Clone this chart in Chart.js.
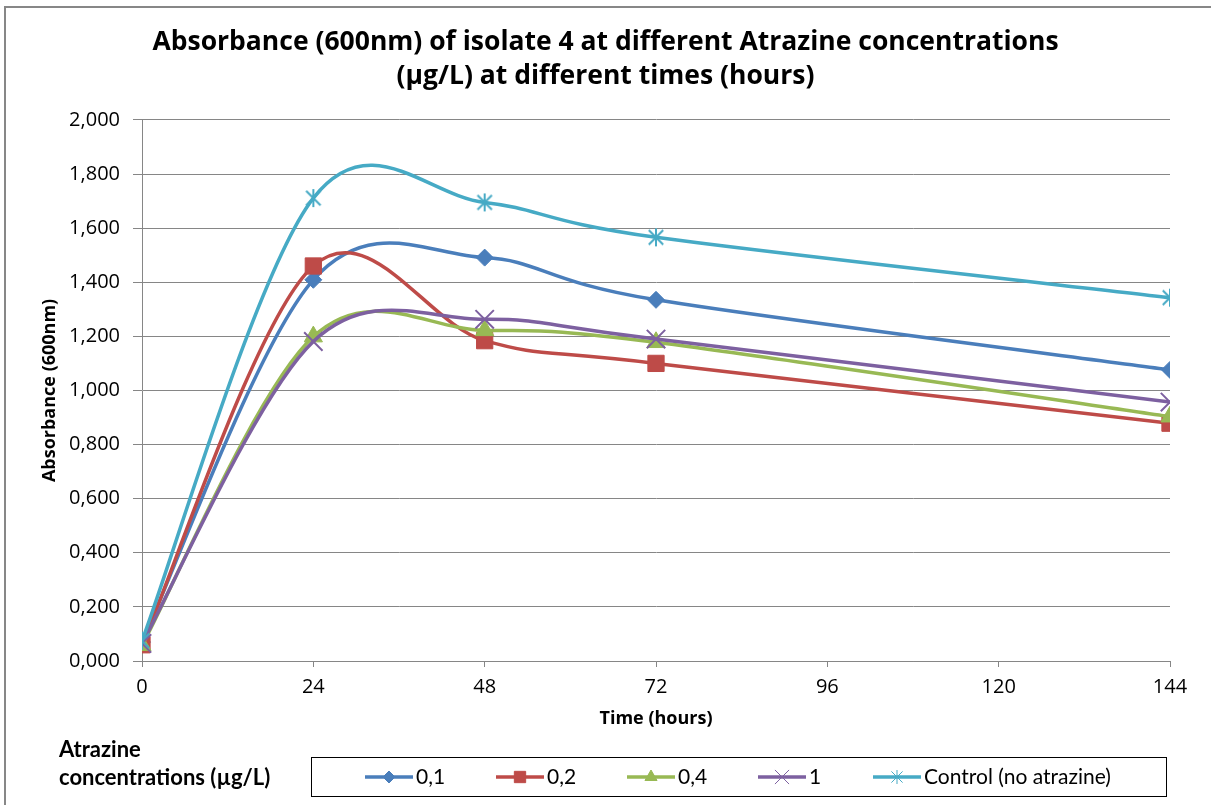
<!doctype html>
<html lang="en">
<head>
  <meta charset="utf-8" />
  <title>Absorbance (600nm) of isolate 4</title>
  <script src="https://cdn.jsdelivr.net/npm/chart.js"></script>
  <style>
    html, body { margin: 0; padding: 0; background: #fff; }
    #wrap { position: relative; width: 1211px; height: 805px; }
  </style>
</head>
<body>
  <div id="wrap"><canvas id="chart"></canvas></div>
  <script>
    // sampling times (hours) and absorbance readings per atrazine concentration
    const hours = [0, 24, 48, 72, 144];
    const conc01 = [0.070, 1.409, 1.491, 1.335, 1.076];
    const conc02 = [0.060, 1.460, 1.184, 1.100, 0.879];
    const conc04 = [0.058, 1.199, 1.222, 1.178, 0.903];
    const conc1 = [0.065, 1.181, 1.263, 1.190, 0.957];
    const control = [0.075, 1.711, 1.695, 1.566, 1.343];

    const seriesLabels = ["0,1", "0,2", "0,4", "1", "Control (no atrazine)"];
    const xTickValues = [0, 24, 48, 72, 96, 120, 144];
    const titleLines = [
      "Absorbance (600nm) of isolate 4 at different Atrazine concentrations",
      "(µg/L) at different times (hours)"
    ];
    const legendTitle = ["Atrazine", "concentrations (µg/L)"];

    const colors = ["#4A7EBB", "#BE4B48", "#98B954", "#7D60A0", "#46AAC5"];
    const GRID = "#868686";

    // asterisk marker: vertical bar plus an X
    function starMarker(color, size, lw) {
      const c = document.createElement("canvas");
      c.width = size; c.height = size;
      const g = c.getContext("2d");
      const m = size / 2, r = size / 2 - 1;
      g.strokeStyle = color;
      g.lineWidth = lw;
      g.beginPath();
      g.moveTo(m, m - r); g.lineTo(m, m + r);
      const d = r * 0.8;
      g.moveTo(m - d, m - d); g.lineTo(m + d, m + d);
      g.moveTo(m + d, m - d); g.lineTo(m - d, m + d);
      g.stroke();
      return c;
    }

    const markers = [
      { pointStyle: "rectRot", radius: 8.5, borderWidth: 1 },
      { pointStyle: "rect", radius: 11.5, borderWidth: 1 },
      { pointStyle: "triangle", radius: 10.5, borderWidth: 1 },
      { pointStyle: "crossRot", radius: 13, borderWidth: 2 },
      { pointStyle: starMarker(colors[4], 20, 2), radius: 10, borderWidth: 0 }
    ];
    const legendMarkers = [
      { pointStyle: "rectRot", radius: 6, borderWidth: 1 },
      { pointStyle: "rect", radius: 8, borderWidth: 1 },
      { pointStyle: "triangle", radius: 7, borderWidth: 1 },
      { pointStyle: "crossRot", radius: 10, borderWidth: 1 },
      { pointStyle: starMarker(colors[4], 16, 1), radius: 8, borderWidth: 0 }
    ];

    const values = [conc01, conc02, conc04, conc1, control];
    const datasets = values.map((vals, i) => ({
      label: seriesLabels[i],
      data: hours.map((h, k) => ({ x: h, y: vals[k] })),
      borderColor: colors[i],
      backgroundColor: colors[i],
      borderWidth: 3.5,
      tension: 0.4,
      pointStyle: markers[i].pointStyle,
      pointRadius: markers[i].radius,
      pointBorderWidth: markers[i].borderWidth,
      pointBackgroundColor: colors[i],
      pointBorderColor: colors[i],
      order: values.length - 1 - i
    }));

    // Excel-style smoothing: control points at +/- (next - prev) / 6
    const smoothLines = {
      id: "smoothLines",
      beforeDatasetsDraw(chart) {
        chart.getSortedVisibleDatasetMetas().forEach(meta => {
          const line = meta.dataset;
          if (!line) return;
          line.updateControlPoints(chart.chartArea, "x");
          const pts = meta.data;
          pts.forEach((p, i) => {
            const prev = pts[i - 1] || p;
            const next = pts[i + 1] || p;
            const dx = (next.x - prev.x) / 6;
            const dy = (next.y - prev.y) / 6;
            p.cp1x = p.x - dx; p.cp1y = p.y - dy;
            p.cp2x = p.x + dx; p.cp2y = p.y + dy;
          });
          line._path = undefined;
        });
      }
    };

    // outer frame and the boxed legend under the plot
    const frameAndLegend = {
      id: "frameAndLegend",
      afterDraw(chart) {
        const ctx = chart.ctx;
        ctx.save();
        ctx.strokeStyle = "#878787";
        ctx.lineWidth = 2;
        ctx.strokeRect(5, 7, 1400, 1000);

        ctx.fillStyle = "#000";
        ctx.font = "bold 22px Lato";
        ctx.textBaseline = "middle";
        ctx.textAlign = "left";
        ctx.fillText(legendTitle[0], 59, 750);
        ctx.fillText(legendTitle[1], 59, 778);

        ctx.strokeStyle = "#000";
        ctx.lineWidth = 1;
        ctx.strokeRect(311.5, 757.5, 855, 39);

        const sampleX = [365, 496, 627, 758, 873];
        const y = 777;
        ctx.font = "21px Lato";
        datasets.forEach((ds, i) => {
          const x0 = sampleX[i];
          ctx.strokeStyle = colors[i];
          ctx.fillStyle = colors[i];
          ctx.lineWidth = 3.5;
          ctx.beginPath();
          ctx.moveTo(x0, y);
          ctx.lineTo(x0 + 48, y);
          ctx.stroke();
          const lm = legendMarkers[i];
          ctx.lineWidth = lm.borderWidth;
          Chart.helpers.drawPoint(ctx, {
            pointStyle: lm.pointStyle,
            radius: lm.radius,
            rotation: 0,
            borderWidth: lm.borderWidth
          }, x0 + 24, y);
          ctx.fillStyle = "#000";
          ctx.fillText(ds.label, x0 + 51, y);
        });
        ctx.restore();
      }
    };

    new Chart(document.getElementById("chart"), {
      type: "line",
      data: { datasets },
      plugins: [smoothLines, frameAndLegend],
      options: {
        responsive: true,
        maintainAspectRatio: false,
        animation: false,
        layout: { padding: 0 },
        plugins: {
          legend: { display: false },
          tooltip: { enabled: false },
          title: {
            display: true,
            text: titleLines,
            color: "#000",
            font: { family: "Open Sans", size: 26.5, weight: "bold", lineHeight: 1.3 },
            padding: { top: 25, bottom: 26 }
          }
        },
        scales: {
          x: {
            type: "linear",
            min: 0,
            max: 144,
            afterBuildTicks: s => { s.ticks = xTickValues.map(v => ({ value: v })); },
            afterFit: s => { s.height = 144; },
            grid: { drawOnChartArea: false, drawTicks: true, tickLength: 6, color: GRID },
            border: { display: true, color: GRID, width: 1 },
            ticks: { color: "#000", padding: 8, font: { family: "Open Sans", size: 20 }, maxRotation: 0 },
            title: {
              display: true,
              text: "Time (hours)",
              color: "#000",
              font: { family: "Open Sans", size: 18, weight: "bold" },
              padding: { top: 0, bottom: 75 }
            }
          },
          y: {
            min: 0,
            max: 2,
            afterFit: s => { s.width = 142; },
            grid: { color: GRID, lineWidth: 1, tickLength: 9, drawTicks: true },
            border: { display: true, color: GRID, width: 1 },
            ticks: {
              stepSize: 0.2,
              color: "#000",
              padding: 13,
              font: { family: "Open Sans", size: 20 },
              callback: v => v.toFixed(3).replace(".", ",")
            },
            title: {
              display: true,
              text: "Absorbance (600nm)",
              color: "#000",
              font: { family: "Open Sans", size: 18, weight: "bold" },
              padding: { top: 39, bottom: 0 }
            }
          },
          // empty right-hand strip keeps the plot right edge where it belongs
          yPad: {
            position: "right",
            afterFit: s => { s.width = 41; },
            grid: { display: false, drawTicks: false },
            border: { display: false },
            ticks: { display: false }
          }
        }
      }
    });
  </script>
</body>
</html>
